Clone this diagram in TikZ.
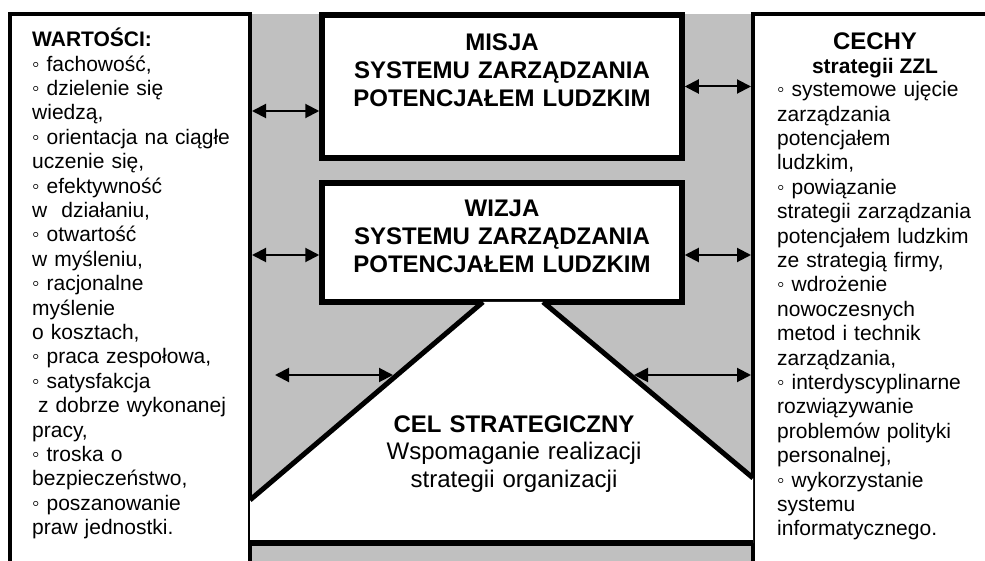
\documentclass[tikz,border=0pt]{standalone}
\usepackage{fontspec}
\setmainfont{Liberation Sans}
\usetikzlibrary{arrows.meta, positioning}
\definecolor{bggray}{HTML}{C0C0C0}

\begin{document}
\begin{tikzpicture}[x=1pt, y=-1pt,
    frame/.style={draw, line width=4pt, fill=white, inner sep=0pt, outer sep=2pt},
    bigbox/.style={frame, line width=5.5pt, outer sep=2.75pt, minimum width=360pt},
    dblarrow/.style={{Triangle[length=14pt,width=14pt]}-{Triangle[length=14pt,width=14pt]}, line width=2pt},
    bodytext/.style={inner sep=0pt, align=left, font=\fontsize{21}{24.4}\selectfont},
    headtext/.style={inner sep=0pt, align=center, text width=400pt, font=\fontsize{24}{28}\selectfont\bfseries}]
    \useasboundingbox (0,0) rectangle (985,561);
    \clip (0,0) rectangle (985,561);

    % grey middle strip
    \fill[bggray] (250,14) rectangle (753,575);

    % side frames
    \node[frame, minimum width=240pt, minimum height=600pt] (wart) at (130,314) {};
    \node[frame, minimum width=250pt, minimum height=600pt] (cech) at (878,314) {};

    % mission and vision
    \node[bigbox, minimum height=143pt] (misja) at (502,86.5) {};
    \node[bigbox, minimum height=119pt] (wizja) at (502,242.5) {};

    % strategic goal
    \coordinate (tl) at (483,302);
    \coordinate (tr) at (543,302);
    \coordinate (bl) at (250,500);
    \coordinate (br) at (753,478);
    \fill[white] (tl) -- (tr) -- (br) -- (753,543) -- (250,543) -- (bl) -- cycle;
    \draw[line width=5pt] (bl) -- (tl);
    \draw[line width=5pt] (tr) -- (br);
    \draw[line width=6pt] (250,543) -- (753,543);

    % arrows
    \coordinate (cl) at (393,375);
    \coordinate (cr) at (634,375);
    \coordinate (ll) at (275,375);
    \draw[dblarrow] (wart.east |- 0,111) -- (misja.west |- 0,111);
    \draw[dblarrow] (wart.east |- 0,255) -- (wizja.west |- 0,255);
    \draw[dblarrow] (misja.east) -- (cech.west |- misja.east);
    \draw[dblarrow] (wizja.east |- 0,255) -- (cech.west |- 0,255);
    \draw[dblarrow] (ll) -- (cl);
    \draw[dblarrow] (cr) -- (cech.west |- cr);

    % texts
    \node[headtext, anchor=base] (tmisja) at (502,50.6)
        {MISJA\\SYSTEMU ZARZĄDZANIA\\POTENCJAŁEM LUDZKIM};
    \node[headtext, anchor=base] (twizja) at (502,216.6)
        {WIZJA\\SYSTEMU ZARZĄDZANIA\\POTENCJAŁEM LUDZKIM};
    \node[headtext, anchor=base, font=\fontsize{24}{27.5}\selectfont] (tcel) at (514,432)
        {\textbf{CEL STRATEGICZNY}\\Wspomaganie realizacji\\strategii organizacji};

    \node[bodytext, text width=215pt, anchor=base west] (twart) at (32,46.7)
        {\textbf{WARTOŚCI:}\\
        ◦ fachowość,\\
        ◦ dzielenie się\\
        wiedzą,\\
        ◦ orientacja na ciągłe\\
        uczenie się,\\
        ◦ efektywność\\
        w~ działaniu,\\
        ◦ otwartość\\
        w myśleniu,\\
        ◦ racjonalne\\
        myślenie\\
        o kosztach,\\
        ◦ praca zespołowa,\\
        ◦ satysfakcja\\
        \hspace*{.28em}z dobrze wykonanej\\
        pracy,\\
        ◦ troska o\\
        bezpieczeństwo,\\
        ◦ poszanowanie\\
        praw jednostki.};

    \node[inner sep=0pt, anchor=base, font=\fontsize{24}{28}\selectfont\bfseries] (tcech) at (875,50) {CECHY};
    \node[inner sep=0pt, anchor=base, font=\fontsize{21}{24}\selectfont\bfseries] (tzzl) at (875,73.3) {strategii ZZL};
    \node[bodytext, text width=205pt, anchor=base west] (tcechy) at (777,96.7)
        {◦ systemowe ujęcie\\
        zarządzania\\
        potencjałem\\
        ludzkim,\\
        ◦ powiązanie\\
        strategii zarządzania\\
        potencjałem ludzkim\\
        ze strategią firmy,\\
        ◦ wdrożenie\\
        nowoczesnych\\
        metod i technik\\
        zarządzania,\\
        ◦ interdyscyplinarne\\
        rozwiązywanie\\
        problemów polityki\\
        personalnej,\\
        ◦ wykorzystanie\\
        systemu\\
        informatycznego.};
\end{tikzpicture}
\end{document}
